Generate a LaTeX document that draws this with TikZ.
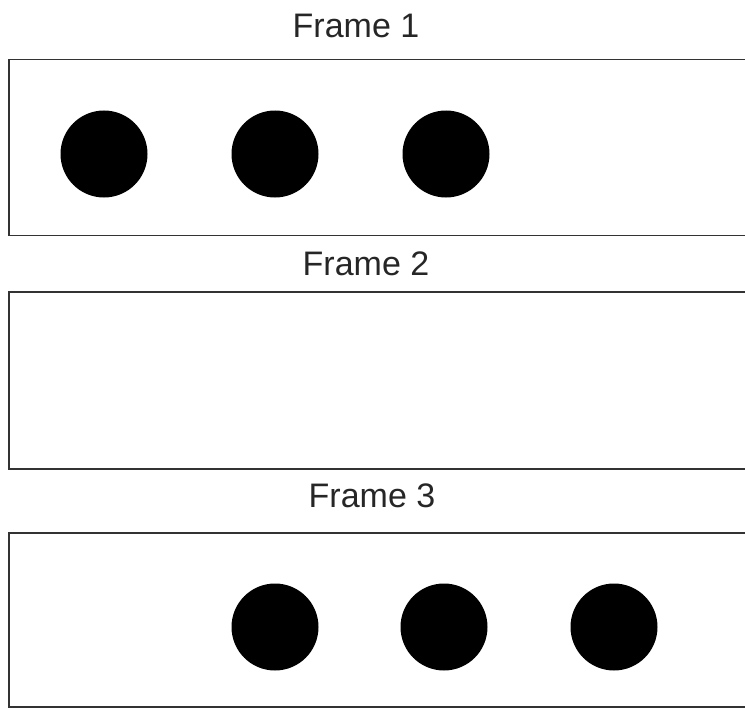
\documentclass[tikz,border=0pt]{standalone}
\usepackage{fontspec}
\setmainfont{Liberation Sans}
\usetikzlibrary{positioning}

\begin{document}
\begin{tikzpicture}[x=1pt, y=-1pt,
        frame/.style={draw=black!80, line width=1.9pt, inner sep=0pt, minimum width=760pt},
        dot/.style={circle, fill=black, inner sep=0pt, minimum size=87pt},
        lbl/.style={anchor=base, font=\fontsize{34}{40}\selectfont, text=black!85}]
        \clip (0,0) rectangle (745,709);
        \fill[white] (0,0) rectangle (745,709);
        % Frames
        \node[frame, minimum height=176pt] (f1) at (389,147.5) {};
        \node[frame, minimum height=177pt] (f2) at (389,380.5) {};
        \node[frame, minimum height=174pt] (f3) at (389,620) {};
        % Labels
        \node[lbl] (t1) at (356,38)  {Frame 1};
        \node[lbl] (t2) at (366,275) {Frame 2};
        \node[lbl] (t3) at (372,507) {Frame 3};
        % Dots in frame 1
        \node[dot] (a1) at (104,154) {};
        \node[dot] (a2) at (275,154) {};
        \node[dot] (a3) at (446,154) {};
        % Dots in frame 3
        \node[dot] (c1) at (275,627) {};
        \node[dot] (c2) at (444,627) {};
        \node[dot] (c3) at (614,627) {};
    \end{tikzpicture}
\end{document}
